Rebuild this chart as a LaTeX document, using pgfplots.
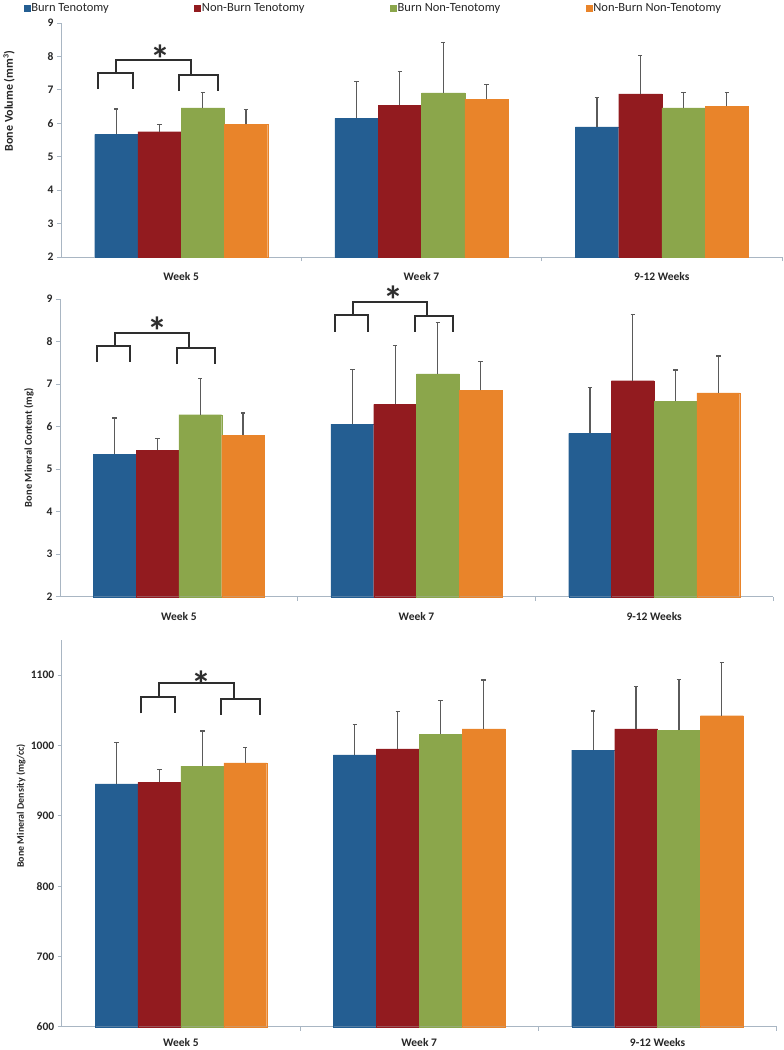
\documentclass[border=0pt]{standalone}
\usepackage{fontspec}
\setmainfont{Carlito}
\usepackage{pgfplots}
\pgfplotsset{compat=1.18}
\definecolor{cB}{HTML}{245E92}
\definecolor{cR}{HTML}{921B1F}
\definecolor{cG}{HTML}{8BA64B}
\definecolor{cO}{HTML}{E9842A}
\definecolor{axc}{HTML}{A9B6C3}
\definecolor{errc}{HTML}{5A5A5A}
\definecolor{txt}{HTML}{262626}
\definecolor{brk}{HTML}{2E2E2E}
\newcommand\fs[1]{\fontsize{#1}{#1}\selectfont}

\pgfplotsset{
  panel/.style={
    scale only axis, anchor=south west, clip=false,
    axis x line*=bottom, axis y line*=left,
    axis line style={draw=axc, line width=0.9pt},
    xmin=-0.5, xmax=2.5,
    xtick={0.5,1.5,2.5}, xticklabels={},
    extra x ticks={0,1,2},
    extra x tick labels={Week 5, Week 7, 9-12 Weeks},
    extra x tick style={major tick length=0pt, tick style={draw=none}},
    tick align=outside, major tick length=4pt,
    tick style={draw=axc, line width=0.9pt},
    x tick label style={font=\fs{11.5}\bfseries, text=txt, yshift=-12pt},
    y tick label style={font=\fs{11.5}\bfseries, text=txt},
    /pgf/number format/assume math mode=true,
    /pgf/number format/1000 sep={},
    ylabel style={font=\bfseries, text=txt, anchor=center},
  },
  bars/.style={ybar, bar width=0.18, bar shift=0, line width=0.1pt,
    error bars/y dir=plus, error bars/y explicit,
    error bars/error bar style={color=errc, line width=1.2pt},
    error bars/error mark options={color=errc, rotate=90, mark size=2.2pt, line width=1.2pt}},
  brack/.style={sharp plot, no marks, draw=brk, line width=2pt, forget plot},
  legend image code/.code={\fill[#1] (0pt,-3pt) rectangle (6pt,3pt);},
}

\begin{document}
\begin{tikzpicture}
\useasboundingbox (0,0) rectangle (784pt,-1050pt);

% ---------------- Panel 1: Bone Volume ----------------
\begin{axis}[panel, at={(61pt,-257pt)}, width=721pt, height=234pt,
  ymin=2, ymax=9, ytick={2,3,...,9},
  ylabel={\fs{12}Bone Volume (mm\textsuperscript{3})},
  ylabel style={at={(axis description cs:-0.072,0.667)}},
  legend columns=4,
  legend style={at={(axis description cs:-0.052,1.064)}, anchor=west,
    draw=none, fill=none, inner sep=0pt, font=\fs{12.5}, text=txt,
    /tikz/every even column/.append style={column sep=84pt},
    nodes={inner sep=1.5pt}},
]
\addplot[bars, fill=cB, draw=cB] table[x expr=\thisrow{x}-0.27,y=y,y error=e] {
x y e
0 5.67 0.76
1 6.15 1.09
2 5.89 0.87
};
\addlegendentry{Burn Tenotomy}
\addplot[bars, fill=cR, draw=cR] table[x expr=\thisrow{x}-0.09,y=y,y error=e] {
x y e
0 5.75 0.22
1 6.54 1.01
2 6.88 1.14
};
\addlegendentry{Non-Burn Tenotomy}
\addplot[bars, fill=cG, draw=cG] table[x expr=\thisrow{x}+0.09,y=y,y error=e] {
x y e
0 6.46 0.45
1 6.91 1.50
2 6.46 0.46
};
\addlegendentry{Burn Non-Tenotomy}
\addplot[bars, fill=cO, draw=cO] table[x expr=\thisrow{x}+0.27,y=y,y error=e] {
x y e
0 5.97 0.44
1 6.72 0.43
2 6.51 0.42
};
\addlegendentry{Non-Burn Non-Tenotomy}
\addplot[brack] coordinates {(-0.345,7.02) (-0.345,7.5) (-0.2,7.5) (-0.2,7.02)};
\addplot[brack] coordinates {(-0.27,7.5) (-0.27,7.89) (0.042,7.89) (0.042,7.44)};
\addplot[brack] coordinates {(-0.008,6.96) (-0.008,7.44) (0.154,7.44) (0.154,6.96)};
\node[font=\fs{40}\bfseries, text=brk, inner sep=0pt] at (axis cs:-0.087,7.92) {*};
\end{axis}

% ---------------- Panel 2: Bone Mineral Content ----------------
\begin{axis}[panel, at={(60pt,-596.7pt)}, width=713pt, height=297.7pt,
  ymin=2, ymax=9, ytick={2,3,...,9},
  ylabel={\fs{10.5}Bone Mineral Content (mg)},
  ylabel style={at={(axis description cs:-0.0435,0.5)}},
]
\addplot[bars, fill=cB, draw=cB] table[x expr=\thisrow{x}-0.27,y=y,y error=e] {
x y e
0 5.35 0.85
1 6.06 1.28
2 5.84 1.07
};
\addplot[bars, fill=cR, draw=cR] table[x expr=\thisrow{x}-0.09,y=y,y error=e] {
x y e
0 5.44 0.28
1 6.52 1.39
2 7.08 1.55
};
\addplot[bars, fill=cG, draw=cG] table[x expr=\thisrow{x}+0.09,y=y,y error=e] {
x y e
0 6.28 0.86
1 7.24 1.21
2 6.60 0.73
};
\addplot[bars, fill=cO, draw=cO] table[x expr=\thisrow{x}+0.27,y=y,y error=e] {
x y e
0 5.80 0.52
1 6.85 0.69
2 6.79 0.87
};
\addplot[brack] coordinates {(-0.345,7.52) (-0.345,7.90) (-0.205,7.90) (-0.205,7.52)};
\addplot[brack] coordinates {(-0.27,7.90) (-0.27,8.20) (0.044,8.20) (0.044,7.84)};
\addplot[brack] coordinates {(-0.009,7.47) (-0.009,7.84) (0.152,7.84) (0.152,7.47)};
\node[font=\fs{40}\bfseries, text=brk, inner sep=0pt] at (axis cs:-0.092,8.25) {*};
\addplot[brack] coordinates {(0.657,8.235) (0.657,8.63) (0.797,8.63) (0.797,8.235)};
\addplot[brack] coordinates {(0.732,8.63) (0.732,8.93) (1.045,8.93) (1.045,8.61)};
\addplot[brack] coordinates {(0.994,8.235) (0.994,8.61) (1.155,8.61) (1.155,8.235)};
\node[font=\fs{40}\bfseries, text=brk, inner sep=0pt] at (axis cs:0.905,8.97) {*};
\end{axis}

% ---------------- Panel 3: Bone Mineral Density ----------------
\begin{axis}[panel, at={(61.7pt,-1026.7pt)}, width=715pt, height=386.7pt,
  ymin=600, ymax=1150, ytick={600,700,...,1100},
  x tick label style={yshift=4pt},
  ylabel={\fs{10}Bone Mineral Density (mg/cc)},
  ylabel style={at={(axis description cs:-0.057,0.571)}},
]
\addplot[bars, fill=cB, draw=cB] table[x expr=\thisrow{x}-0.27,y=y,y error=e] {
x y e
0 945.5 58.3
1 986.7 43.7
2 993.4 55.5
};
\addplot[bars, fill=cR, draw=cR] table[x expr=\thisrow{x}-0.09,y=y,y error=e] {
x y e
0 947.5 18.9
1 995.3 52.6
2 1023.7 59.8
};
\addplot[bars, fill=cG, draw=cG] table[x expr=\thisrow{x}+0.09,y=y,y error=e] {
x y e
0 970.7 49.8
1 1016.2 48.3
2 1021.9 72.5
};
\addplot[bars, fill=cO, draw=cO] table[x expr=\thisrow{x}+0.27,y=y,y error=e] {
x y e
0 975.4 21.3
1 1023.7 69.3
2 1042.3 75.8
};
\addplot[brack] coordinates {(-0.168,1045.6) (-0.168,1068.4) (-0.024,1068.4) (-0.024,1045.6)};
\addplot[brack] coordinates {(-0.09,1068.4) (-0.09,1088.3) (0.224,1088.3) (0.224,1066.4)};
\addplot[brack] coordinates {(0.169,1044) (0.169,1066.4) (0.333,1066.4) (0.333,1044)};
\node[font=\fs{40}\bfseries, text=brk, inner sep=0pt] at (axis cs:0.085,1086) {*};
\end{axis}
\end{tikzpicture}
\end{document}
